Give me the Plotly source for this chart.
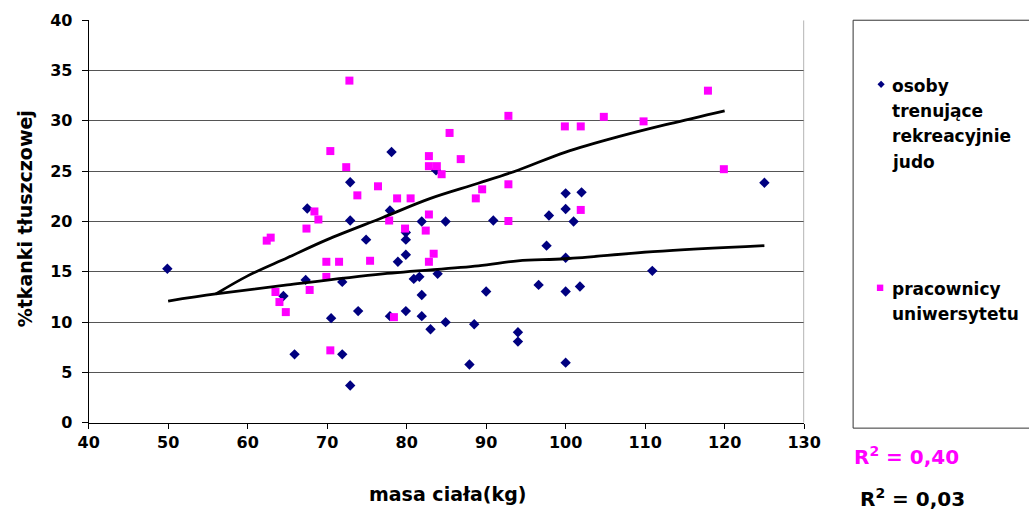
import plotly.graph_objects as go

W, H = 1029, 515

# ---- data ----
judo_x = [49.9, 64.5, 65.9, 67.3, 67.5, 70.5, 71.9, 71.9, 72.9, 72.9, 72.9, 73.9, 74.9,
          77.9, 77.9, 78.1, 78.9, 79.9, 79.9, 79.9, 79.9, 80.9, 81.6, 81.9, 81.9, 81.9,
          83.0, 83.7, 83.9, 84.9, 84.9, 87.9, 88.5, 90.0, 90.9, 94.0, 94.0, 96.6, 97.6,
          97.9, 100.0, 100.0, 100.0, 100.0, 100.0, 101.0, 101.8, 102.0, 110.9, 125.0]
judo_y = [15.3, 12.6, 6.8, 14.2, 21.3, 10.4, 14.0, 6.8, 23.9, 20.1, 3.7, 11.1, 18.2,
          21.1, 10.6, 26.9, 16.0, 18.9, 18.2, 16.7, 11.1, 14.3, 14.5, 20.0, 12.7, 10.6,
          9.3, 25.1, 14.8, 20.0, 10.0, 5.8, 9.8, 13.05, 20.1, 9.0, 8.07, 13.7, 17.6,
          20.6, 22.8, 21.25, 16.4, 13.05, 5.98, 20.0, 13.55, 22.9, 15.1, 23.85]

prac_x = [62.4, 62.9, 63.5, 64.0, 64.8, 67.4, 67.8, 68.4, 68.9, 69.9, 69.9, 70.4, 70.4,
          71.5, 72.4, 72.8, 73.8, 75.4, 76.4, 77.8, 78.4, 78.8, 79.8, 80.5, 82.4, 82.8,
          82.8, 82.8, 82.8, 83.4, 83.8, 84.4, 85.4, 86.8, 88.7, 89.5, 92.8, 92.8, 92.8,
          99.9, 101.9, 101.9, 104.8, 109.8, 117.9, 119.9]
prac_y = [18.1, 18.4, 13.0, 12.0, 11.0, 19.3, 13.2, 21.0, 20.2, 16.0, 14.5, 27.0, 7.2,
          16.0, 25.4, 34.0, 22.6, 16.1, 23.5, 20.1, 10.5, 22.3, 19.3, 22.3, 19.1, 26.5,
          25.5, 20.7, 16.0, 16.8, 25.5, 24.7, 28.8, 26.2, 22.3, 23.2, 30.5, 23.7, 20.05,
          29.45, 29.45, 21.15, 30.4, 29.95, 33.0, 25.2]

trend_prac_x = [56, 60, 65, 70, 77, 83, 89, 94, 100, 107, 113, 120]
trend_prac_y = [12.8, 14.6, 16.4, 18.2, 20.4, 22.3, 23.8, 25.1, 26.9, 28.5, 29.7, 31.0]
trend_judo_x = [50, 56, 65, 77, 89, 94, 100, 111, 125]
trend_judo_y = [12.1, 12.8, 13.7, 14.8, 15.6, 16.1, 16.3, 17.0, 17.6]

x_ticks = [40, 50, 60, 70, 80, 90, 100, 110, 120, 130]
y_ticks = [0, 5, 10, 15, 20, 25, 30, 35, 40]

legend_judo = ["osoby", "trenujące", "rekreacyjnie", "judo"]
legend_prac = ["pracownicy", "uniwersytetu"]
r2_prac = "R<sup>2</sup> = 0,40"
r2_judo = "R<sup>2</sup> = 0,03"
x_title = "masa ciała(kg)"
y_title = "%tkanki tłuszczowej"

NAVY = "#000080"
MAG = "#FF00FF"
FONT = "DejaVu Sans"

# mapping from picture pixels to paper fractions (calibrated to the rendered page)
OX, OY, CW, CH = 10.3, 8.8, 1001.7, 494.9


def px(x):
    return (x - OX) / CW


def py(y):
    return 1 - (y - OY) / CH


# plot area in picture pixels
L, R, T, B = 88, 804, 20, 421.7

fig = go.Figure()
fig.add_trace(go.Scatter(x=judo_x, y=judo_y, mode="markers", cliponaxis=False,
                         marker=dict(symbol="diamond", size=8, color=NAVY, line=dict(width=0)),
                         showlegend=False))
fig.add_trace(go.Scatter(x=prac_x, y=prac_y, mode="markers", cliponaxis=False,
                         marker=dict(symbol="square", size=8, color=MAG, line=dict(width=0)),
                         showlegend=False))
fig.add_trace(go.Scatter(x=trend_prac_x, y=trend_prac_y, mode="lines",
                         line=dict(color="black", width=2.8, shape="spline"), showlegend=False))
fig.add_trace(go.Scatter(x=trend_judo_x, y=trend_judo_y, mode="lines",
                         line=dict(color="black", width=2.8, shape="spline"), showlegend=False))

tickfont = dict(family=FONT, size=16, color="black", weight="bold")

fig.update_layout(
    width=W, height=H, autosize=False,
    margin=dict(l=0, r=0, t=0, b=0),
    paper_bgcolor="white", plot_bgcolor="white",
    xaxis=dict(domain=[px(L), px(R)], range=[40, 130], tickvals=x_ticks,
               showgrid=False, zeroline=False, showline=True, linecolor="black", linewidth=1,
               ticks="outside", ticklen=5, tickcolor="black", tickwidth=1,
               tickfont=tickfont, fixedrange=True),
    yaxis=dict(domain=[py(B), py(T)], range=[0, 40], tickvals=y_ticks,
               showgrid=True, gridcolor="#555555", gridwidth=1, zeroline=False,
               showline=True, linecolor="black", linewidth=1,
               ticks="outside", ticklen=6, tickcolor="black", tickwidth=1,
               tickfont=tickfont, ticklabelstandoff=6, fixedrange=True),
)

shapes = []
# right border of plot area
shapes.append(dict(type="line", xref="x", yref="y", x0=130, x1=130, y0=0, y1=40,
                   line=dict(color="#999999", width=1.5)))
# legend box (open to the right edge of the picture)
shapes.append(dict(type="path", xref="paper", yref="paper",
                   path=f"M {px(1045)},{py(20)} L {px(853)},{py(20)} L {px(853)},{py(427)} L {px(1045)},{py(427)}",
                   line=dict(color="#333333", width=1)))
# legend diamond
cx, cy, r = 881, 84, 3.6
shapes.append(dict(type="path", xref="paper", yref="paper",
                   path=f"M {px(cx - r)},{py(cy)} L {px(cx)},{py(cy - r)} L {px(cx + r)},{py(cy)} L {px(cx)},{py(cy + r)} Z",
                   fillcolor=NAVY, line=dict(width=0)))
# legend square
sx, sy, s = 880, 287, 3.2
shapes.append(dict(type="rect", xref="paper", yref="paper",
                   x0=px(sx - s), x1=px(sx + s), y0=py(sy + s), y1=py(sy - s),
                   fillcolor=MAG, line=dict(width=0)))
fig.update_layout(shapes=shapes)

ann = []
lfont = dict(family=FONT, size=17, color="black", weight="bold")
for i, t in enumerate(legend_judo):
    ann.append(dict(text=t, xref="paper", yref="paper", x=px(890), y=py(86 + 25 * i),
                    xanchor="left", yanchor="middle", showarrow=False, font=lfont))
for i, t in enumerate(legend_prac):
    ann.append(dict(text=t, xref="paper", yref="paper", x=px(890), y=py(288 + 25 * i),
                    xanchor="left", yanchor="middle", showarrow=False, font=lfont))
ann.append(dict(text=r2_prac, xref="paper", yref="paper", x=px(852), y=py(455),
                xanchor="left", yanchor="middle", showarrow=False,
                font=dict(family=FONT, size=20, color=MAG, weight="bold")))
ann.append(dict(text=r2_judo, xref="paper", yref="paper", x=px(858), y=py(497),
                xanchor="left", yanchor="middle", showarrow=False,
                font=dict(family=FONT, size=20, color="black", weight="bold")))
ann.append(dict(text=x_title, xref="paper", yref="paper", x=px(447), y=py(493),
                xanchor="center", yanchor="middle", showarrow=False,
                font=dict(family=FONT, size=19, color="black", weight="bold")))
ann.append(dict(text=y_title, xref="paper", yref="paper", x=px(24), y=py(218),
                xanchor="center", yanchor="middle", showarrow=False, textangle=-90,
                font=dict(family=FONT, size=19, color="black", weight="bold")))
fig.update_layout(annotations=ann)

fig.write_html("out.html")
